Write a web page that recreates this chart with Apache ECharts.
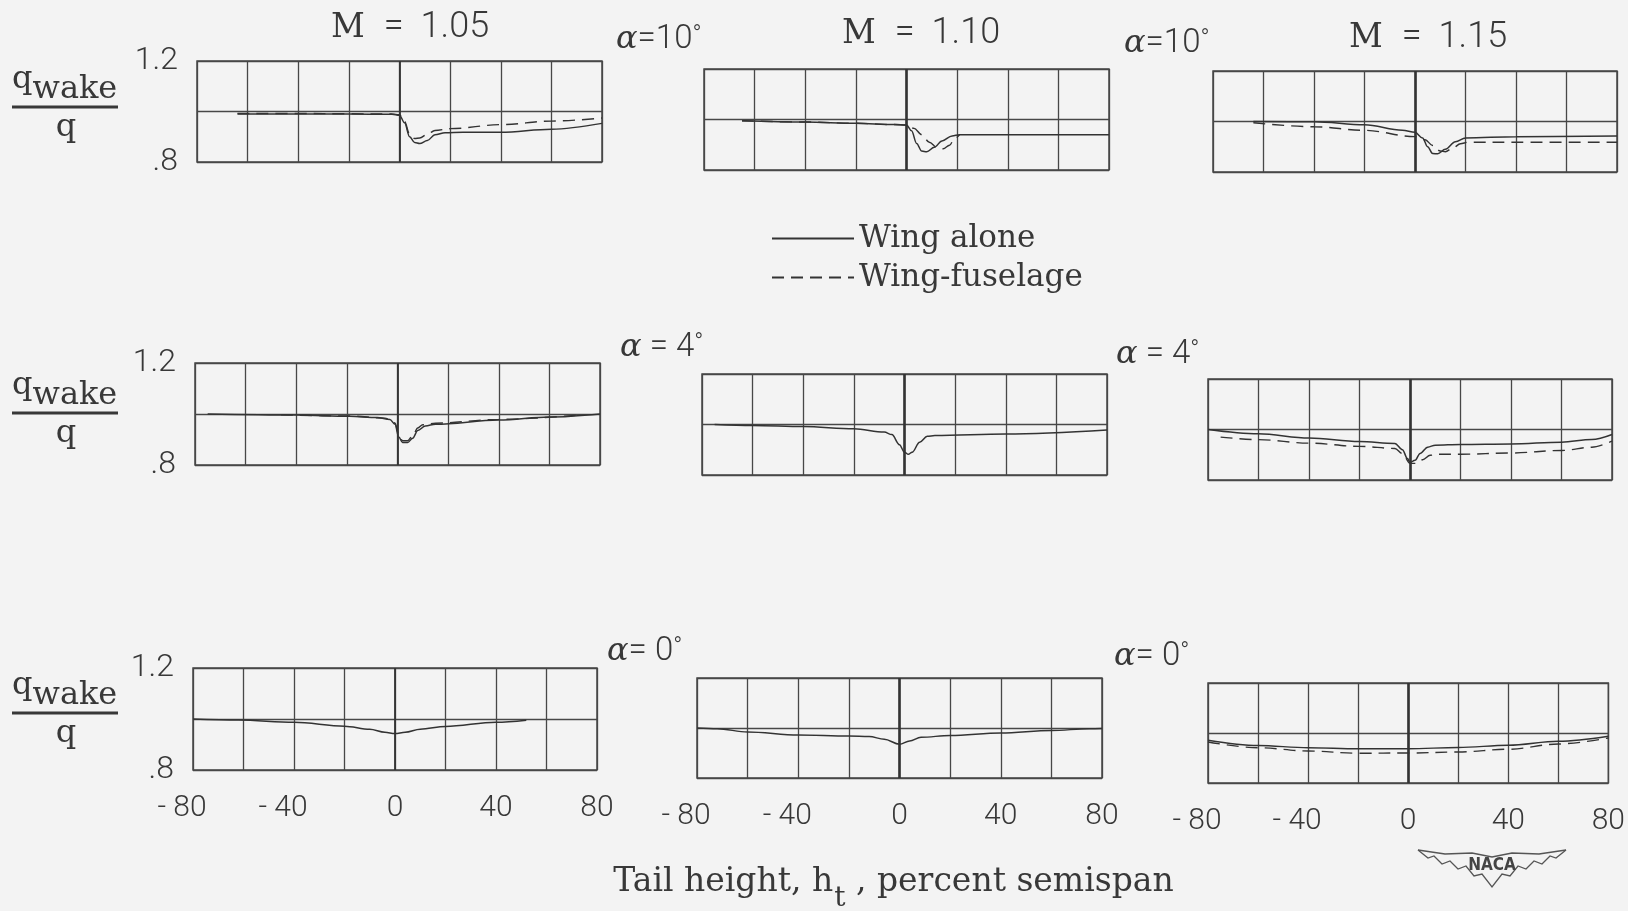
<!DOCTYPE html>
<html>
<head>
<meta charset="utf-8">
<script src="https://cdn.jsdelivr.net/npm/echarts@6/dist/echarts.min.js"></script>
<style>
  html, body { margin: 0; padding: 0; background: #f3f3f3; }
  #chart { width: 1628px; height: 911px; }
</style>
</head>
<body>
<div id="chart"></div>
<script>
  // tick labels
  const xTickValues = [-80, -40, 0, 40, 80];
  const xTickLabels = ['- 80', '- 40', '0', '40', '80'];
  const machLabels = ['1.05', '1.10', '1.15'];
  const alphaLabels = ['=10', ' = 4', '= 0'];

  // alpha = 10 deg
  const wingM105a10 = [[-64,0.99],[-40,0.99],[-20,0.99],[-3,0.989],[0,0.985],[2,0.955],[4,0.9],[6,0.877],[8,0.873],[11,0.885],[14,0.908],[18,0.916],[25,0.918],[40,0.918],[60,0.93],[80,0.953]];
  const fusM105a10 = [[-64,0.992],[-40,0.992],[-20,0.991],[-3,0.99],[0,0.987],[2,0.96],[4,0.91],[6,0.893],[8,0.895],[11,0.91],[14,0.925],[20,0.932],[40,0.948],[60,0.962],[80,0.974]];
  const wingM110a10 = [[-65,0.995],[-40,0.99],[-20,0.985],[-5,0.98],[0,0.978],[2,0.955],[4,0.905],[6,0.875],[8,0.872],[11,0.89],[14,0.915],[18,0.935],[21,0.94],[40,0.94],[80,0.94]];
  const fusM110a10 = [[-65,0.995],[-40,0.99],[-20,0.985],[-5,0.98],[0,0.978],[3,0.965],[6,0.94],[9,0.91],[12,0.89],[14.5,0.884],[17,0.898],[19,0.925],[21,0.94]];
  const wingM115a10 = [[-64,1.0],[-40,0.999],[-20,0.987],[-5,0.965],[0,0.957],[3,0.935],[5,0.9],[7,0.873],[9,0.872],[12,0.89],[16,0.92],[20,0.935],[40,0.94],[80,0.943]];
  const fusM115a10 = [[-64,0.995],[-40,0.979],[-20,0.965],[0,0.94],[4,0.928],[7,0.905],[10,0.883],[12,0.88],[15,0.895],[18,0.912],[21,0.918],[40,0.918],[80,0.918]];

  // alpha = 4 deg
  const wingM105a4 = [[-75,1.0],[-40,0.996],[-19,0.991],[-8,0.986],[-3,0.978],[-1,0.96],[0.5,0.91],[2,0.888],[4,0.888],[6,0.905],[8,0.935],[11,0.953],[15,0.96],[40,0.976],[60,0.988],[80,1.0]];
  const fusM105a4 = [[-46,0.997],[-19,0.992],[-5,0.984],[-1,0.965],[0.5,0.92],[2,0.895],[4,0.895],[6,0.915],[8,0.945],[10,0.958],[15,0.964],[40,0.979],[71,0.995]];
  const wingM110a4 = [[-75,1.0],[-60,0.996],[-40,0.992],[-20,0.983],[-8,0.97],[-5,0.96],[-2,0.92],[0,0.89],[1.5,0.882],[3,0.89],[6,0.93],[9,0.953],[12,0.956],[40,0.962],[80,0.978]];
  const fusM110a4 = [];
  const wingM115a4 = [[-80,1.0],[-60,0.983],[-40,0.966],[-20,0.952],[-6,0.945],[-3,0.92],[-1,0.885],[0,0.87],[2,0.878],[4,0.905],[7,0.93],[10,0.938],[20,0.941],[40,0.943],[60,0.95],[72,0.96],[80,0.98]];
  const fusM115a4 = [[-75,0.97],[-60,0.96],[-40,0.946],[-20,0.933],[-6,0.925],[-3,0.905],[0,0.866],[2,0.866],[5,0.88],[8,0.898],[11,0.902],[20,0.902],[40,0.907],[60,0.917],[72,0.93],[80,0.954]];

  // alpha = 0 deg
  const wingM105a0 = [[-80,1.0],[-62,0.996],[-40,0.987],[-20,0.972],[-10,0.96],[-4,0.948],[0,0.943],[4,0.948],[10,0.96],[20,0.971],[40,0.987],[52,0.995]];
  const fusM105a0 = [];
  const wingM110a0 = [[-80,1.0],[-72,0.997],[-60,0.984],[-40,0.972],[-20,0.968],[-12,0.966],[-6,0.955],[0,0.935],[4,0.948],[8.5,0.963],[20,0.97],[40,0.98],[60,0.99],[75,0.997],[80,0.998]];
  const fusM110a0 = [];
  const wingM115a0 = [[-80,0.971],[-60,0.95],[-40,0.941],[-20,0.937],[0,0.937],[20,0.942],[40,0.951],[60,0.967],[80,0.987]];
  const fusM115a0 = [[-80,0.964],[-60,0.941],[-40,0.928],[-20,0.919],[0,0.92],[20,0.924],[40,0.935],[60,0.956],[80,0.98]];

  const wingData = [wingM105a10, wingM110a10, wingM115a10, wingM105a4, wingM110a4, wingM115a4, wingM105a0, wingM110a0, wingM115a0];
  const fusData = [fusM105a10, fusM110a10, fusM115a10, fusM105a4, fusM110a4, fusM115a4, fusM105a0, fusM110a0, fusM115a0];

  // panel rectangles [left, top, width, height]
  const rects = [
    [197, 61, 405, 101], [704, 69, 405, 101], [1213, 71, 404, 101],
    [195, 363, 405, 102], [702, 374, 405, 101], [1208, 379, 404, 101],
    [193, 668, 404, 102], [697, 678, 405, 100], [1208, 683, 404, 100]
  ];

  const ink = '#383838';
  const gridInk = '#474747';
  const numFont = 'Roboto, "DejaVu Sans", sans-serif';
  const typeFont = '"DejaVu Serif", serif';

  // measure text for placing the pieces of a title
  const measureCtx = document.createElement('canvas').getContext('2d');
  function textWidth(t, font) { measureCtx.font = font; return measureCtx.measureText(t).width; }

  const chart = echarts.init(document.getElementById('chart'));

  const grids = [], xAxes = [], yAxes = [], series = [];
  rects.forEach(function (r, i) {
    const row = Math.floor(i / 3), col = i % 3;
    grids.push({
      left: r[0], top: r[1], width: r[2], height: r[3],
      show: true, borderColor: gridInk, borderWidth: 1.5, backgroundColor: 'transparent'
    });
    xAxes.push({
      gridIndex: i, type: 'value', min: -80, max: 80, interval: 20,
      axisLine: { show: false }, axisTick: { show: false },
      splitLine: { show: true, lineStyle: { color: gridInk, width: 1.3 } },
      axisLabel: {
        show: row === 2, margin: 23, fontFamily: numFont, fontWeight: 300, fontSize: 30, color: ink,
        formatter: function (v) {
          const k = xTickValues.indexOf(v);
          if (k < 0) return '';
          return v < 0 ? '{n|' + xTickLabels[k] + '}' : xTickLabels[k];
        },
        rich: { n: { padding: [0, 22, 0, 0], fontFamily: numFont, fontWeight: 300, fontSize: 30, color: ink } }
      }
    });
    yAxes.push({
      gridIndex: i, type: 'value', min: 0.8, max: 1.2, interval: 0.2,
      axisLine: { show: false }, axisTick: { show: false },
      splitLine: { show: true, lineStyle: { color: gridInk, width: 1.3 } },
      axisLabel: {
        show: col === 0, margin: 19, fontFamily: numFont, fontWeight: 300, fontSize: 32, color: ink,
        formatter: function (v) {
          if (Math.abs(v - 1.2) < 1e-6) return '1.2';
          if (Math.abs(v - 0.8) < 1e-6) return '.8';
          return '';
        }
      }
    });
    series.push({
      name: 'Wing alone', type: 'line', xAxisIndex: i, yAxisIndex: i,
      data: wingData[i], showSymbol: false, symbol: 'none', smooth: 0.35, smoothMonotone: 'x',
      itemStyle: { color: '#333' },
      lineStyle: { color: '#333', width: 1.5, type: 'solid' },
      markLine: {
        silent: true, symbol: 'none', label: { show: false },
        lineStyle: { color: '#333', width: col === 0 ? 1.8 : 2.6, type: 'solid' },
        data: [{ xAxis: 0 }]
      }
    });
    series.push({
      name: 'Wing-fuselage', type: 'line', xAxisIndex: i, yAxisIndex: i,
      data: fusData[i], showSymbol: false, symbol: 'none', smooth: 0.35, smoothMonotone: 'x',
      itemStyle: { color: '#333' },
      lineStyle: { color: '#333', width: 1.4, type: [12, 7] }
    });
  });

  // text and decorations
  const graphic = [];
  const machPos = [[410, 28], [921, 34], [1428, 38]];
  machLabels.forEach(function (t, k) {
    graphic.push({
      type: 'text', x: machPos[k][0], y: machPos[k][1],
      style: {
        text: '{m|M}{e|=}{n|' + t + '}', align: 'center', verticalAlign: 'middle',
        rich: {
          m: { font: '33px ' + typeFont, fill: ink },
          e: { font: '300 36px ' + numFont, fill: ink, padding: [0, 17, 0, 19] },
          n: { font: '300 36px ' + numFont, fill: ink }
        }
      }
    });
  });

  const alphaPos = [[[616, 40], [1124, 44]], [[620, 348], [1116, 355]], [[607, 652], [1114, 657]]];
  alphaPos.forEach(function (pair, row) {
    pair.forEach(function (p) {
      graphic.push({
        type: 'text', x: p[0], y: p[1],
        style: {
          text: '{a|α}{t|' + alphaLabels[row] + '}{d|°}',
          verticalAlign: 'middle',
          rich: {
            a: { font: 'italic 32px "DejaVu Serif", serif', fill: ink },
            t: { font: '300 33px ' + numFont, fill: ink },
            d: { font: '300 24px ' + numFont, fill: ink, verticalAlign: 'top' }
          }
        }
      });
    });
  });

  // q_wake / q fraction on each row
  const fracFont = '32px ' + typeFont;
  const qW = textWidth('q', fracFont);
  const rowOffsets = [0, 306, 606];
  rowOffsets.forEach(function (dy) {
    graphic.push({ type: 'text', x: 12, y: 80 + dy, style: { text: 'q', font: fracFont, fill: ink, verticalAlign: 'middle' } });
    graphic.push({ type: 'text', x: 12 + qW, y: 90 + dy, style: { text: 'wake', font: fracFont, fill: ink, verticalAlign: 'middle' } });
    graphic.push({ type: 'line', shape: { x1: 12, y1: 107 + dy, x2: 118, y2: 107 + dy }, style: { stroke: ink, lineWidth: 3 } });
    graphic.push({ type: 'text', x: 66, y: 128 + dy, style: { text: 'q', font: fracFont, fill: ink, align: 'center', verticalAlign: 'middle' } });
  });

  // x axis title with subscript, centred on x = 893
  const titleFont = '33px ' + typeFont;
  const subFont = '28px ' + typeFont;
  const partA = 'Tail height, h', partB = ' , percent semispan';
  const wA = textWidth(partA, titleFont), wS = textWidth('t', subFont), wB = textWidth(partB, titleFont);
  const tx = 893 - (wA + wS + wB) / 2;
  graphic.push({ type: 'text', x: tx, y: 882, style: { text: partA, font: titleFont, fill: ink, verticalAlign: 'middle' } });
  graphic.push({ type: 'text', x: tx + wA + 1, y: 899, style: { text: 't', font: subFont, fill: ink, verticalAlign: 'middle' } });
  graphic.push({ type: 'text', x: tx + wA + wS + 1, y: 882, style: { text: partB, font: titleFont, fill: ink, verticalAlign: 'middle' } });

  // NACA emblem
  graphic.push({
    type: 'polyline',
    shape: { points: [[1418, 850], [1445, 854], [1472, 853], [1492, 857], [1512, 853], [1539, 854], [1566, 850]] },
    style: { stroke: '#555', fill: null, lineWidth: 1.6 }
  });
  graphic.push({
    type: 'polyline',
    shape: { points: [[1418, 850], [1428, 858], [1434, 856], [1442, 864], [1450, 861], [1458, 869], [1466, 866], [1474, 876], [1482, 874], [1492, 887], [1502, 874], [1510, 876], [1518, 866], [1526, 869], [1534, 861], [1542, 864], [1550, 856], [1556, 858], [1566, 850]] },
    style: { stroke: '#555', fill: null, lineWidth: 1.3 }
  });
  graphic.push({
    type: 'text', x: 1492, y: 866,
    style: { text: 'NACA', font: 'bold 17px "DejaVu Sans Condensed", "DejaVu Sans", sans-serif', fill: '#444', align: 'center', verticalAlign: 'middle' }
  });

  chart.setOption({
    backgroundColor: '#f3f3f3',
    animation: false,
    legend: {
      orient: 'vertical', left: 766, top: 218, itemWidth: 82, itemHeight: 14, itemGap: 8,
      data: ['Wing alone', 'Wing-fuselage'],
      itemStyle: { opacity: 0 },
      textStyle: { fontFamily: typeFont, fontSize: 31, color: ink }
    },
    grid: grids,
    xAxis: xAxes,
    yAxis: yAxes,
    series: series,
    graphic: graphic
  });
</script>
</body>
</html>
